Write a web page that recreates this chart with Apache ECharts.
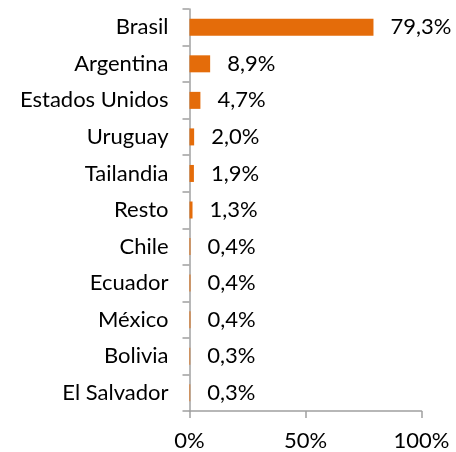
<!DOCTYPE html>
<html><head><meta charset="utf-8">
<script src="https://cdn.jsdelivr.net/npm/echarts@6/dist/echarts.min.js"></script>
<style>html,body{margin:0;padding:0;background:#fff}#c{width:456px;height:452px}</style>
</head><body><div id="c"></div>
<script>
const categories = ["Brasil","Argentina","Estados Unidos","Uruguay","Tailandia","Resto","Chile","Ecuador","México","Bolivia","El Salvador"];
const values = [79.3, 8.9, 4.7, 2.0, 1.9, 1.3, 0.4, 0.4, 0.4, 0.3, 0.3];
const xTicks = [0, 50, 100];
const FONT = "Lato";
const chart = echarts.init(document.getElementById('c'));
chart.setOption({
  animation: false,
  grid: {left: 189.5, top: 9, width: 232, height: 403, containLabel: false},
  xAxis: {
    type: 'value', min: xTicks[0], max: xTicks[xTicks.length - 1], interval: xTicks[1] - xTicks[0],
    axisLine: {show: true, lineStyle: {color: '#a0a0a0', width: 1.5}},
    axisTick: {show: true, length: 7, lineStyle: {color: '#a0a0a0', width: 1.5}},
    splitLine: {show: false},
    axisLabel: {formatter: v => v + '%', color: '#000', fontSize: 22, fontFamily: FONT, margin: 19}
  },
  yAxis: {
    type: 'category', inverse: true, data: categories,
    axisLine: {show: true, lineStyle: {color: '#a0a0a0', width: 1.5}},
    axisTick: {show: true, length: 7, lineStyle: {color: '#a0a0a0', width: 1.5}},
    axisLabel: {color: '#000', fontSize: 22, fontFamily: FONT, margin: 21}
  },
  series: [{
    type: 'bar', data: values, barWidth: 17,
    itemStyle: {color: '#e46c0a'},
    label: {show: true, position: 'right', distance: 17, color: '#000', fontSize: 22, fontFamily: FONT,
      formatter: p => p.value.toFixed(1).replace('.', ',') + '%'}
  }]
});
</script></body></html>
